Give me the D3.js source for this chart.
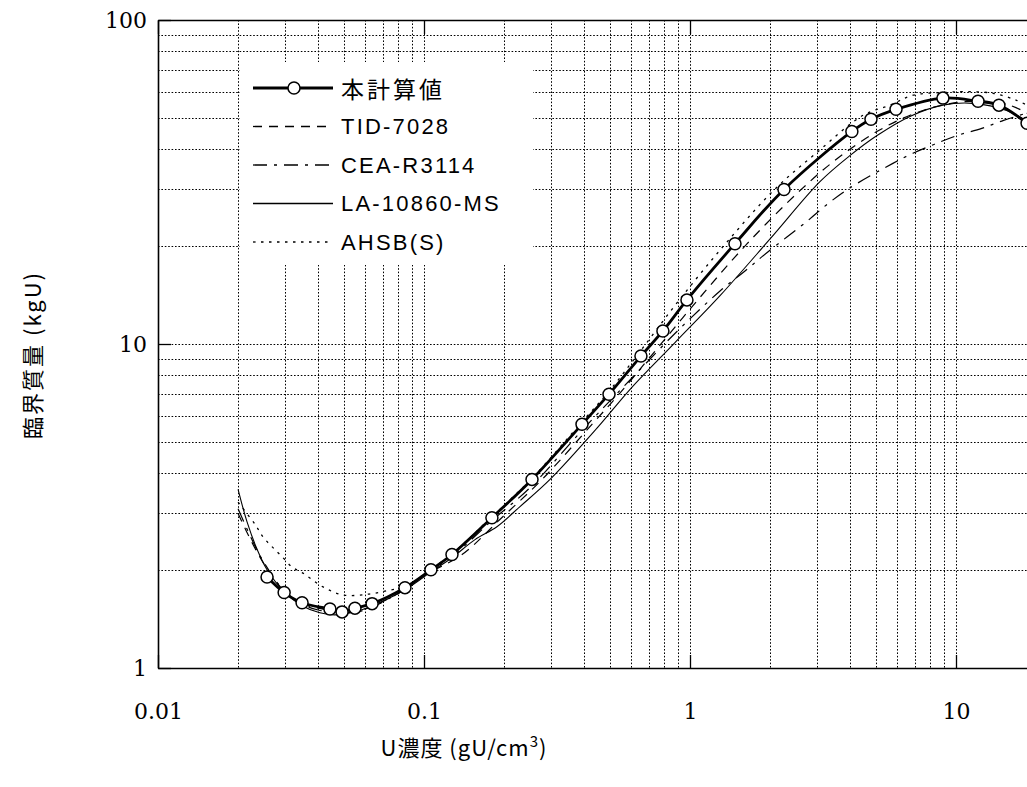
<!DOCTYPE html>
<html><head><meta charset="utf-8">
<script src="https://cdn.jsdelivr.net/npm/d3@7"></script>
<style>body{margin:0;background:#fff}</style>
</head><body>
<script>
// ---- data ----
const xTickValues=[0.01,0.1,1,10];
const xTickLabels=["0.01","0.1","1","10"];
const yTickValues=[1,10,100];
const yTickLabels=["1","10","100"];
const seriesNames=["本計算値","TID-7028","CEA-R3114","LA-10860-MS","AHSB(S)"];

const calcX=[0.0257,0.0298,0.0348,0.0443,0.0492,0.0550,0.0638,0.0848,0.1062,0.1274,0.180,0.2547,0.3926,0.496,0.654,0.791,0.974,1.476,2.256,4.06,4.79,5.95,8.93,12.1,14.5,18.5];
const calcY=[1.91,1.71,1.59,1.52,1.49,1.53,1.58,1.77,2.01,2.24,2.91,3.82,5.65,7.00,9.18,10.97,13.68,20.4,30.0,45.3,49.4,53.0,57.4,56.1,54.6,48.0];

const tidX=[0.02,0.0225,0.025,0.03,0.035,0.04,0.05,0.06,0.08,0.1,0.139,0.196,0.278,0.428,0.541,0.713,1.07,1.64,2.62,3.6,5.1,7.0,9.5,12.5,16,19];
const tidY=[3.0,2.45,2.1,1.72,1.58,1.53,1.49,1.52,1.70,1.93,2.24,2.91,3.82,5.65,7.0,9.18,13.68,20.4,30.0,37.5,45.5,51.5,55.2,56.2,54.5,51.0];

const ceaX=[0.02,0.0225,0.025,0.03,0.035,0.04,0.05,0.06,0.08,0.1,0.13,0.18,0.25,0.4,0.6,0.9,1.3,1.61,1.94,2.75,3.30,3.96,5.79,6.89,8.26,10.1,12.5,15.1,19];
const ceaY=[3.1,2.5,2.12,1.72,1.57,1.51,1.48,1.51,1.70,1.93,2.24,2.85,3.6,5.5,7.8,11.0,14.6,16.8,19.1,23.9,27.1,30.2,36.1,38.8,41.3,44.0,46.3,49.0,52.0];

const laX=[0.02,0.0216,0.0236,0.0257,0.0298,0.0348,0.0406,0.0463,0.0550,0.0638,0.0848,0.1062,0.1274,0.1555,0.188,0.2296,0.2977,0.447,0.600,0.878,1.297,2.0,3.08,4.0,5.05,6.71,8.93,11.6,15.5,18.5];
const laY=[3.56,2.83,2.32,2.01,1.72,1.556,1.48,1.459,1.491,1.556,1.744,1.98,2.19,2.49,2.73,3.15,3.82,5.50,7.30,10.1,14.1,21.1,31.7,38.2,44.0,50.4,54.6,55.3,52.6,48.7];

const ahsbX=[0.02,0.0232,0.0248,0.0268,0.0292,0.0319,0.0348,0.0417,0.0496,0.0616,0.0745,0.0848,0.1062,0.1274,0.18,0.2547,0.3926,0.5,0.65,0.9,1.36,2.08,3.0,4.47,5.65,6.89,9.25,10.6,13.8,16.9,19];
const ahsbY=[3.25,2.77,2.54,2.37,2.21,2.05,1.97,1.78,1.68,1.69,1.74,1.78,2.02,2.25,2.93,3.85,5.75,7.2,9.5,13.5,20.4,30.0,39.0,50.8,54.6,58.6,59.8,60.1,59.4,56.5,54.0];

// ---- chart ----
const W=1027,H=787;
const x=d3.scaleLog().domain([0.01,100]).range([158,1222]);
const y=d3.scaleLog().domain([1,100]).range([668,20]);
const svg=d3.select("body").append("svg").attr("width",W).attr("height",H);
svg.append("rect").attr("width",W).attr("height",H).attr("fill","#fff");
svg.append("defs").append("clipPath").attr("id","clip").append("rect")
  .attr("x",158).attr("y",20).attr("width",1100).attr("height",648);

const grid=svg.append("g").attr("clip-path","url(#clip)")
  .attr("stroke","#000").attr("stroke-width",1).attr("stroke-dasharray","1.6,1.8");
const xg=x.ticks().filter(v=>v>0.0101&&v<99);
const yg=y.ticks().filter(v=>v>1.01&&v<99);
grid.selectAll("line.v").data(xg).join("line").attr("class","v")
  .attr("x1",d=>Math.round(x(d))+0.5).attr("x2",d=>Math.round(x(d))+0.5)
  .attr("y1",y(100)).attr("y2",y(1));
grid.selectAll("line.h").data(yg).join("line").attr("class","h")
  .attr("y1",d=>Math.round(y(d))+0.5).attr("y2",d=>Math.round(y(d))+0.5)
  .attr("x1",x(0.01)).attr("x2",1300);

// legend background masks grid
svg.append("rect").attr("x",240).attr("y",62).attr("width",293).attr("height",203).attr("fill","#fff");

const line=d3.line().x(d=>x(d[0])).y(d=>y(d[1])).curve(d3.curveCatmullRom.alpha(0.5));
const zip=(a,b)=>a.map((v,i)=>[v,b[i]]);
const series=[
  {name:seriesNames[0],data:zip(calcX,calcY),w:2.8,dash:null,marker:true},
  {name:seriesNames[1],data:zip(tidX,tidY),w:1.2,dash:"9,7"},
  {name:seriesNames[2],data:zip(ceaX,ceaY),w:1.2,dash:"14,7,3,7"},
  {name:seriesNames[3],data:zip(laX,laY),w:1.1,dash:null},
  {name:seriesNames[4],data:zip(ahsbX,ahsbY),w:1.3,dash:"2.5,5.5"}
];
const plot=svg.append("g").attr("clip-path","url(#clip)");
series.slice().reverse().forEach(s=>{
  plot.append("path").datum(s.data).attr("d",line).attr("fill","none")
    .attr("stroke","#000").attr("stroke-width",s.w).attr("stroke-dasharray",s.dash);
});
plot.selectAll("circle.m").data(series[0].data).join("circle").attr("class","m")
  .attr("cx",d=>x(d[0])).attr("cy",d=>y(d[1])).attr("r",6)
  .attr("fill","#fff").attr("stroke","#000").attr("stroke-width",1.5);

// axes
const fmtX=(d,i)=>xTickLabels[i], fmtY=(d,i)=>yTickLabels[i];
const ax=svg.append("g").attr("transform",`translate(0,${y(1)})`)
  .call(d3.axisBottom(x).tickValues(xTickValues).tickFormat(fmtX).tickSize(-13).tickSizeOuter(0).tickPadding(35));
const ay=svg.append("g").attr("transform",`translate(${x(0.01)},0)`)
  .call(d3.axisLeft(y).tickValues(yTickValues).tickFormat(fmtY).tickSize(-13).tickSizeOuter(0).tickPadding(11));
const at=svg.append("g").attr("transform",`translate(0,${y(100)})`)
  .call(d3.axisTop(x).tickValues(xTickValues).tickFormat("").tickSize(-14).tickSizeOuter(0));
[ax,ay,at].forEach(g=>{
  g.select(".domain").attr("stroke","#000").attr("stroke-width",1.6);
  g.selectAll(".tick line").attr("stroke","#000").attr("stroke-width",1.3);
  g.selectAll("text").attr("fill","#000").attr("font-family","'DejaVu Serif',serif").attr("font-size",22);
});

// titles
svg.append("text").attr("transform","translate(35,355) rotate(-90)").attr("text-anchor","middle")
  .attr("dominant-baseline","middle").attr("letter-spacing",2)
  .attr("font-family","'Noto Sans CJK JP',sans-serif").attr("font-size",22).attr("fill","#000")
  .text("臨界質量 (kgU)");
const xt=svg.append("text").attr("x",464).attr("y",756).attr("text-anchor","middle").attr("letter-spacing",1)
  .attr("font-family","'Noto Sans CJK JP',sans-serif").attr("font-size",22).attr("fill","#000");
xt.append("tspan").text("U濃度 (gU/cm");
xt.append("tspan").attr("dy",-9).attr("font-size",15).text("3");
xt.append("tspan").attr("dy",9).text(")");

// legend
const lg=svg.append("g");
series.forEach((s,i)=>{
  const cy=88+i*38.5;
  lg.append("line").attr("x1",253).attr("x2",333).attr("y1",cy).attr("y2",cy)
    .attr("stroke","#000").attr("stroke-width",s.marker?2.8:1.3).attr("stroke-dasharray",s.dash);
  if(s.marker) lg.append("circle").attr("cx",294).attr("cy",cy).attr("r",6)
    .attr("fill","#fff").attr("stroke","#000").attr("stroke-width",1.5);
  lg.append("text").attr("x",341).attr("y",cy).attr("dominant-baseline","central")
    .attr("font-family",i===0?"'Noto Sans CJK JP',sans-serif":"'Liberation Sans',Arial,sans-serif")
    .attr("font-size",i===0?23:22).attr("letter-spacing",i===0?3:2.2).attr("fill","#000")
    .text(s.name);
});
</script>
</body></html>
